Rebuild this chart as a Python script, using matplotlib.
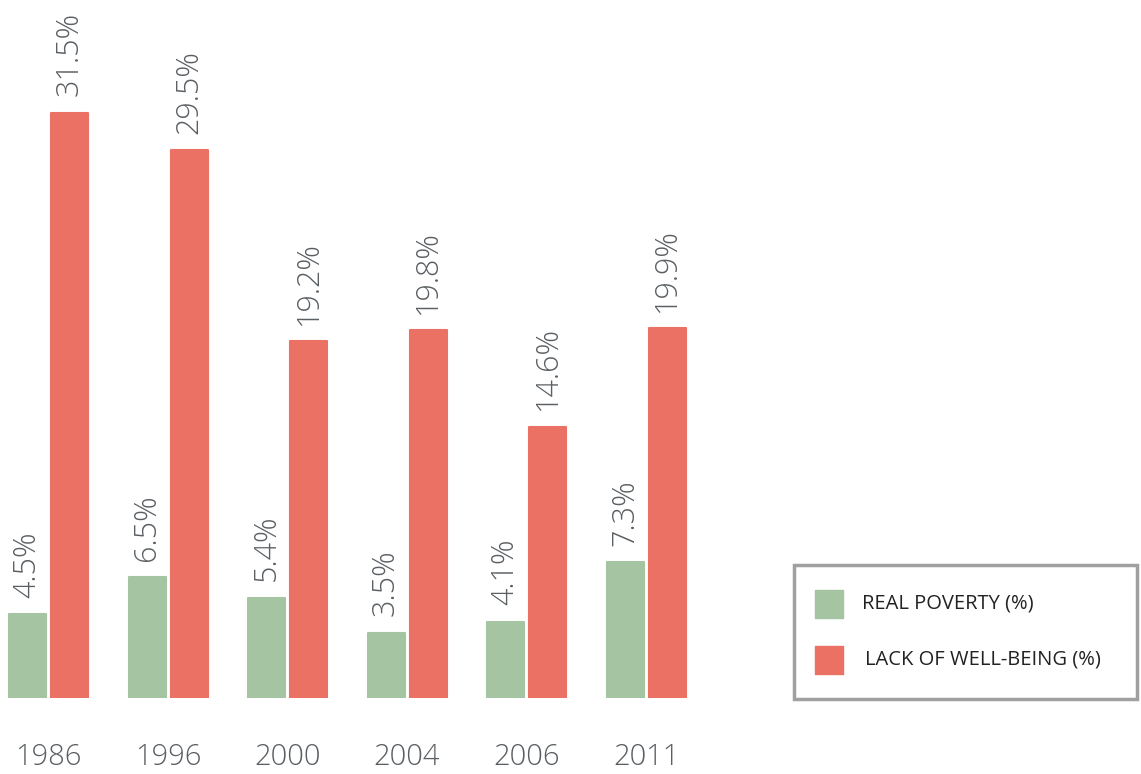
import matplotlib
matplotlib.use("Agg")
import matplotlib.pyplot as plt
from matplotlib.patches import Rectangle

years = ["1986", "1996", "2000", "2004", "2006", "2011"]
real_poverty = [4.5, 6.5, 5.4, 3.5, 4.1, 7.3]
lack_wellbeing = [31.5, 29.5, 19.2, 19.8, 14.6, 19.9]
series_names = ["REAL POVERTY (%)", "LACK OF WELL-BEING (%)"]

GREEN = "#a5c4a2"
RED = "#ec7165"
TXT = "#5a5f63"

W, H = 1141, 774
fig = plt.figure(figsize=(W / 100, H / 100), dpi=100)

# axes in pixel units
ax_left, ax_bottom, ax_w, ax_h = 0, 76, 700, 698
ax = fig.add_axes([ax_left / W, ax_bottom / H, ax_w / W, ax_h / H])
group_px = 119.5
px_per_unit_y = 18.57
ax.set_xlim(-48.5 / group_px, (ax_w - 48.5) / group_px)
ax.set_ylim(0, ax_h / px_per_unit_y)
ax.axis("off")

bw = 37 / group_px
off = 21 / group_px
x = list(range(len(years)))
fam = ["Open Sans", "DejaVu Sans"]

b1 = ax.bar([i - off for i in x], real_poverty, width=bw, color=GREEN,
            edgecolor=GREEN, linewidth=1.5, joinstyle="round")
b2 = ax.bar([i + off for i in x], lack_wellbeing, width=bw, color=RED,
            edgecolor=RED, linewidth=1.5, joinstyle="round")

for bars, vals in ((b1, real_poverty), (b2, lack_wellbeing)):
    for r, v in zip(bars, vals):
        ax.annotate(f"{v}%", (r.get_x() + r.get_width() / 2, v),
                    xytext=(0, 12), textcoords="offset points",
                    rotation=90, ha="center", va="bottom",
                    fontsize=22, color=TXT, family=fam, fontweight="light")

for i, y in enumerate(years):
    ax.annotate(y, (i, 0), xytext=(0, -43), textcoords="offset points",
                ha="center", va="center", fontsize=21, color=TXT,
                family=fam, fontweight="light", annotation_clip=False)

# legend box
def fx(px):
    return px / W

def fy(py):
    return 1 - py / H

fig.patches.append(Rectangle((fx(794), fy(699)), (1137 - 794) / W, (699 - 565) / H,
                             transform=fig.transFigure, fill=False,
                             edgecolor="#a0a0a0", linewidth=2.5))
for (c, name, yc) in ((GREEN, series_names[0], 604), (RED, series_names[1], 660)):
    fig.patches.append(Rectangle((fx(815), fy(yc + 14)), 28 / W, 28 / H,
                                 transform=fig.transFigure, facecolor=c, edgecolor=c,
                                 linewidth=1, joinstyle="round"))
    fig.text(fx(862 if c == GREEN else 865), fy(yc), name, ha="left", va="center",
             fontsize=14.5, color="#222222", family=fam)

fig.savefig("out.png", dpi=100)
